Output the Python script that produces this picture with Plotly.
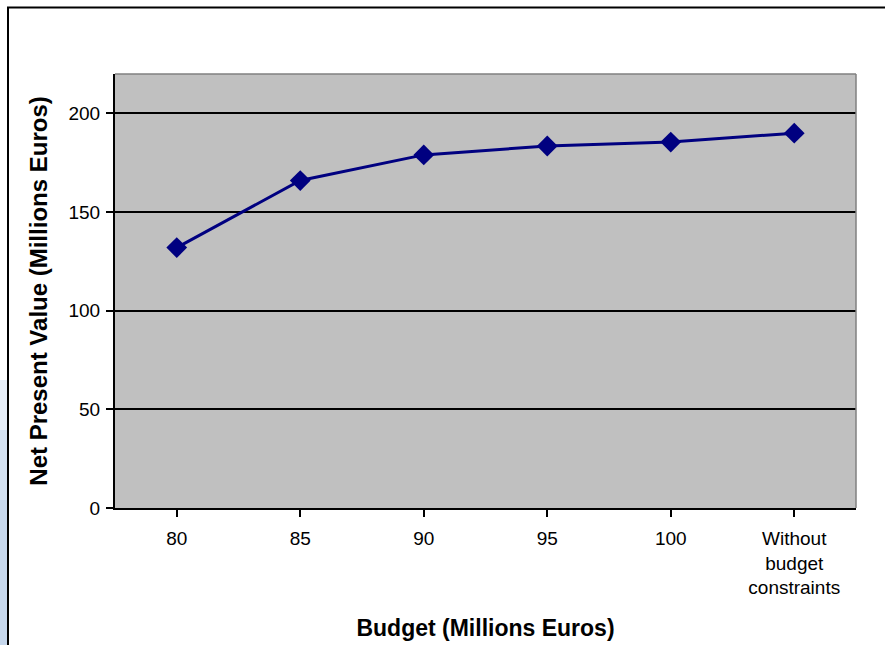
import plotly.graph_objects as go

categories = ["80", "85", "90", "95", "100", "Without<br>budget<br>constraints"]
npv_values = [132, 166, 179, 183.5, 185.5, 190]
y_ticks = [0, 50, 100, 150, 200]

W, H = 885, 645
L, R, T, B = 115, 29, 74, 137
pw, ph = W - L - R, H - T - B

def px(x):
    return (x - L) / pw

def py(y):
    return (H - B - y) / ph

fig = go.Figure()
fig.add_trace(go.Scatter(
    x=list(range(len(categories))), y=npv_values, mode="lines+markers",
    line=dict(color="#000080", width=3),
    marker=dict(symbol="diamond", size=16, color="#000080"),
    showlegend=False, hoverinfo="skip",
))

shapes = [
    # blue gradient strip at left
    dict(type="rect", xref="paper", yref="paper", x0=px(0), x1=px(7), y0=py(380), y1=py(430),
         fillcolor="#e6eef8", line=dict(width=0), layer="below"),
    dict(type="rect", xref="paper", yref="paper", x0=px(0), x1=px(7), y0=py(430), y1=py(500),
         fillcolor="#d4e1f1", line=dict(width=0), layer="below"),
    dict(type="rect", xref="paper", yref="paper", x0=px(0), x1=px(7), y0=py(500), y1=py(650),
         fillcolor="#c6d7ec", line=dict(width=0), layer="below"),
    # outer frame
    dict(type="rect", xref="paper", yref="paper", x0=px(8), x1=px(900), y0=py(7.5), y1=py(660),
         line=dict(color="black", width=2), fillcolor="rgba(0,0,0,0)"),
    # plot area top/right border (gray)
    dict(type="line", xref="paper", yref="paper", x0=0, x1=1, y0=1, y1=1,
         line=dict(color="#808080", width=1.5)),
    dict(type="line", xref="paper", yref="paper", x0=1, x1=1, y0=0, y1=1,
         line=dict(color="#808080", width=1.5)),
]

fig.update_layout(
    width=W, height=H,
    margin=dict(l=L, r=R, t=T, b=B, autoexpand=False),
    paper_bgcolor="white", plot_bgcolor="#C0C0C0",
    font=dict(family="Liberation Sans, Arial, sans-serif", size=19, color="black"),
    shapes=shapes,
    xaxis=dict(
        range=[-0.5, len(categories) - 0.5],
        tickmode="array", tickvals=list(range(len(categories))), ticktext=categories,
        tickfont=dict(size=19),
        showgrid=False, zeroline=False,
        showline=True, linecolor="black", linewidth=2,
        ticks="outside", ticklen=7, tickwidth=1.5, tickcolor="black",
        tickson="boundaries", ticklabelstandoff=5,
        title=dict(text="<b>Budget (Millions Euros)</b>", font=dict(size=23), standoff=23),
        automargin=False,
    ),
    yaxis=dict(
        range=[0, 220], tickvals=y_ticks,
        tickfont=dict(size=19),
        showgrid=True, gridcolor="black", gridwidth=1.5,
        zeroline=False,
        showline=True, linecolor="black", linewidth=2,
        ticks="outside", ticklen=7, tickwidth=1.5, tickcolor="black",
        ticklabelstandoff=2,
        title=dict(text="<b>Net Present Value (Millions Euros)</b>", font=dict(size=24), standoff=14),
        automargin=False,
    ),
)

fig.write_html("out.html")
